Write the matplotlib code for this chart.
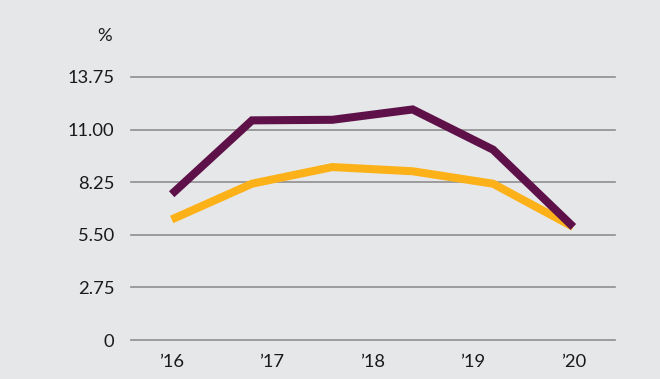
import matplotlib.pyplot as plt

# half-yearly-ish observation points between 2016 and 2020
periods = [2016.0, 2016.8, 2017.6, 2018.4, 2019.2, 2020.0]
purple_vals = [7.62, 11.48, 11.51, 12.05, 9.95, 5.91]
orange_vals = [6.30, 8.17, 9.04, 8.82, 8.17, 5.91]

years = [2016, 2017, 2018, 2019, 2020]
year_labels = ["\u201916", "\u201917", "\u201918", "\u201919", "\u201920"]
y_ticks = [0, 2.75, 5.50, 8.25, 11.00, 13.75]
y_labels = ["0", "2.75", "5.50", "8.25", "11.00", "13.75"]

bg = "#e6e7e9"
plt.rcParams['font.family'] = ['Lato', 'DejaVu Sans']

fig = plt.figure(figsize=(6.6, 3.79), dpi=100, facecolor=bg)
ax = fig.add_axes([0.1985, 0.1029, 0.7333, 0.6941], facecolor=bg)

for y in y_ticks:
    ax.axhline(y, color="#8f8f91", lw=1.2, zorder=1, clip_on=False)

ax.plot(periods, purple_vals, color="#5e1149", lw=5.8, solid_joinstyle="miter",
        solid_capstyle="butt", zorder=3, clip_on=False)
ax.plot(periods, orange_vals, color="#fdb118", lw=5.8, solid_joinstyle="miter",
        solid_capstyle="butt", zorder=2, clip_on=False)

ax.set_xlim(2015.595, 2020.415)
ax.set_ylim(0, 13.75)
ax.set_xticks(years)
ax.set_xticklabels(year_labels)
ax.set_yticks(y_ticks)
ax.set_yticklabels(y_labels)
ax.tick_params(length=0, labelsize=13.2, colors="#1a1a1a")
ax.tick_params(axis="y", pad=12)
ax.tick_params(axis="x", pad=10)
for s in ax.spines.values():
    s.set_visible(False)

ax.text(-0.04, 1.155, "%", transform=ax.transAxes, fontsize=13.2,
        color="#1a1a1a", ha="right", va="center")

fig.savefig("out.png", dpi=100, facecolor=bg)
